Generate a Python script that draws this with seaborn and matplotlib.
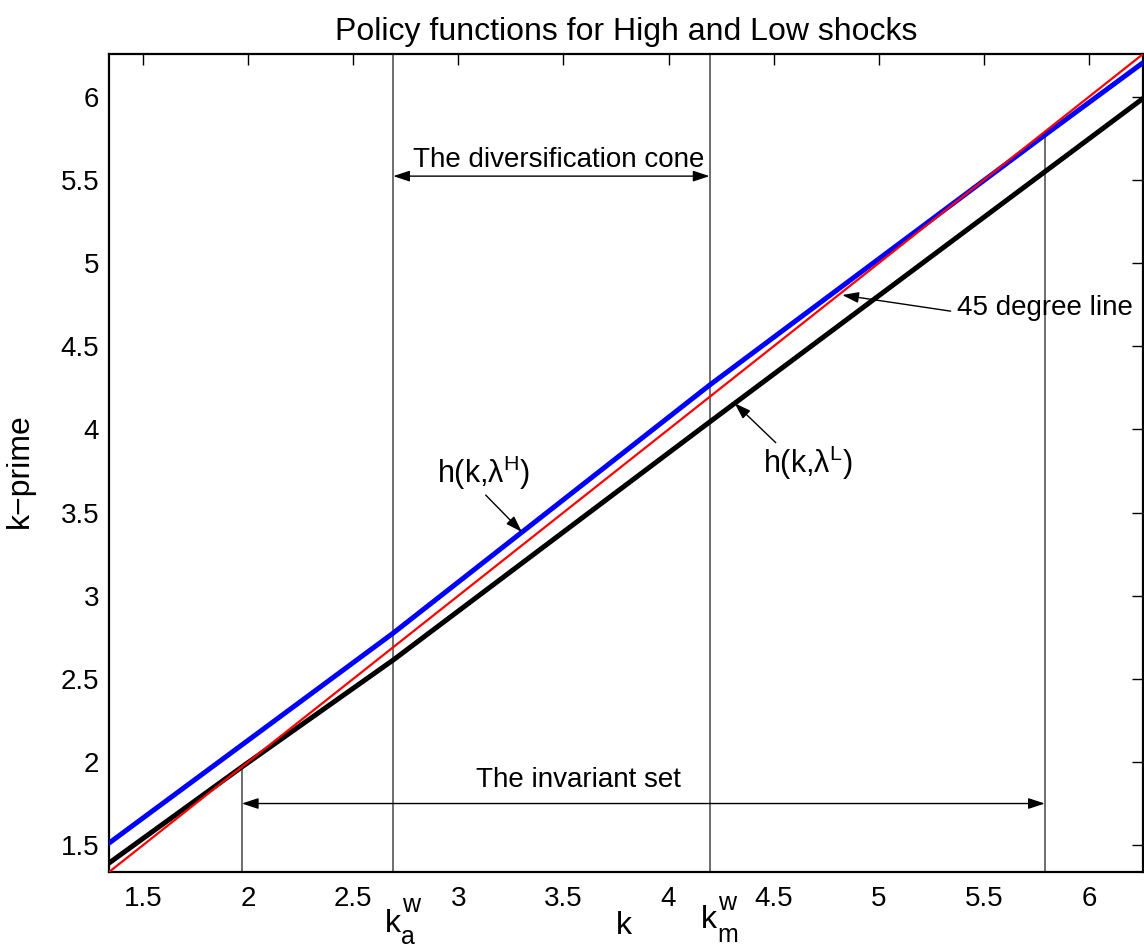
import seaborn as sns
import matplotlib.pyplot as plt

# valores
k_lim = [1.338, 6.257]                      # limites do grid de capital
k_high = [1.338, 2.69, 4.195, 5.79, 6.257]
h_high = [1.512, 2.775, 4.266, 5.77, 6.205]  # h(k, lambda^H)
k_low = [1.338, 1.97, 2.69, 4.195, 6.257]
h_low = [1.392, 1.97, 2.613, 4.044, 5.99]    # h(k, lambda^L)
cone = [2.69, 4.195]                          # k_a^w, k_m^w
invariant = [1.97, 5.79]
tick_vals = [1.5, 2, 2.5, 3, 3.5, 4, 4.5, 5, 5.5, 6]
tick_labels = ['1.5', '2', '2.5', '3', '3.5', '4', '4.5', '5', '5.5', '6']

sns.set_style('white')
plt.rcParams['font.family'] = ['Liberation Sans', 'DejaVu Sans']
plt.rcParams['mathtext.fontset'] = 'custom'
plt.rcParams['mathtext.rm'] = 'Liberation Sans'
plt.rcParams['mathtext.it'] = 'Liberation Sans'
plt.rcParams['mathtext.default'] = 'regular'
plt.rcParams['text.color'] = 'black'
plt.rcParams['axes.labelcolor'] = 'black'

W, H = 1144, 952
fig = plt.figure(figsize=(W / 100, H / 100), dpi=100)
ax = fig.add_axes([0.0953, 0.084, 0.9038, 0.8592])

# linhas verticais (cone de diversificacao e conjunto invariante)
for kv in cone:
    ax.axvline(kv, color='#555555', lw=1.2, zorder=1)
ax.plot([invariant[0], invariant[0]], [k_lim[0], invariant[0]], color='#555555', lw=1.2, zorder=1)
ax.plot([invariant[1], invariant[1]], [k_lim[0], h_high[3]], color='#555555', lw=1.2, zorder=1)

sns.lineplot(x=k_high, y=h_high, color='blue', lw=3.6, ax=ax, zorder=3)
sns.lineplot(x=k_low, y=h_low, color='black', lw=3.6, ax=ax, zorder=3)
sns.lineplot(x=k_lim, y=k_lim, color='red', lw=1.6, ax=ax, zorder=4)

ax.set_xlim(k_lim)
ax.set_ylim(k_lim)
ax.set_xticks(tick_vals)
ax.set_xticklabels(tick_labels)
ax.set_yticks(tick_vals)
ax.set_yticklabels(tick_labels)
ax.tick_params(direction='in', length=8, width=1, top=True, right=True,
               labelsize=20, colors='black')
ax.tick_params(axis='x', pad=10)
ax.tick_params(axis='y', pad=7)
for s in ax.spines.values():
    s.set_linewidth(1.6)
    s.set_color('black')

ax.set_title('Policy functions for High and Low shocks', fontsize=23, pad=10)
ax.set_ylabel('k\u2212prime', fontsize=23)
ax.yaxis.set_label_coords(-0.072, 0.491)
ax.set_xlabel('')

# rotulos abaixo do eixo x (posicoes em pixels da figura)
def ftext(px, py, s, size):
    fig.text(px / W, 1 - py / H, s, fontsize=size, ha='left', va='baseline')

ftext(616, 934, 'k', 23)
ftext(385, 932, 'k', 23)
ftext(402, 912, 'w', 18)
ftext(401, 944, 'a', 18)
ftext(701, 928, 'k', 23)
ftext(718, 910, 'w', 18)
ftext(717, 942, 'm', 18)

arrow = dict(arrowstyle='-|>,head_length=1.0,head_width=0.33', color='black', lw=1, shrinkA=0, shrinkB=0)
arrow2 = dict(arrowstyle='<|-|>,head_length=1.0,head_width=0.33', color='black', lw=1, shrinkA=0, shrinkB=0)

ax.annotate('', xy=(cone[1], 5.523), xytext=(cone[0], 5.523), arrowprops=arrow2)
ax.text(2.785, 5.62, 'The diversification cone', fontsize=20, ha='left', va='center')

ax.annotate('', xy=(invariant[1], 1.75), xytext=(invariant[0], 1.75), arrowprops=arrow2)
ax.text(3.57, 1.89, 'The invariant set', fontsize=20, ha='center', va='center')

ax.annotate('', xy=(3.302, 3.383), xytext=(3.13, 3.605), arrowprops=arrow)
ax.text(2.896, 3.677, r'h(k,$\lambda^H$)', fontsize=22, ha='left', va='baseline')

ax.annotate('', xy=(4.314, 4.158), xytext=(4.51, 3.92), arrowprops=arrow)
ax.text(4.448, 3.737, r'h(k,$\lambda^L$)', fontsize=22, ha='left', va='baseline')

ax.annotate('', xy=(4.826, 4.808), xytext=(5.342, 4.711), arrowprops=arrow)
ax.text(5.37, 4.73, '45 degree line', fontsize=20, ha='left', va='center')

fig.savefig('out.png', dpi=100)
